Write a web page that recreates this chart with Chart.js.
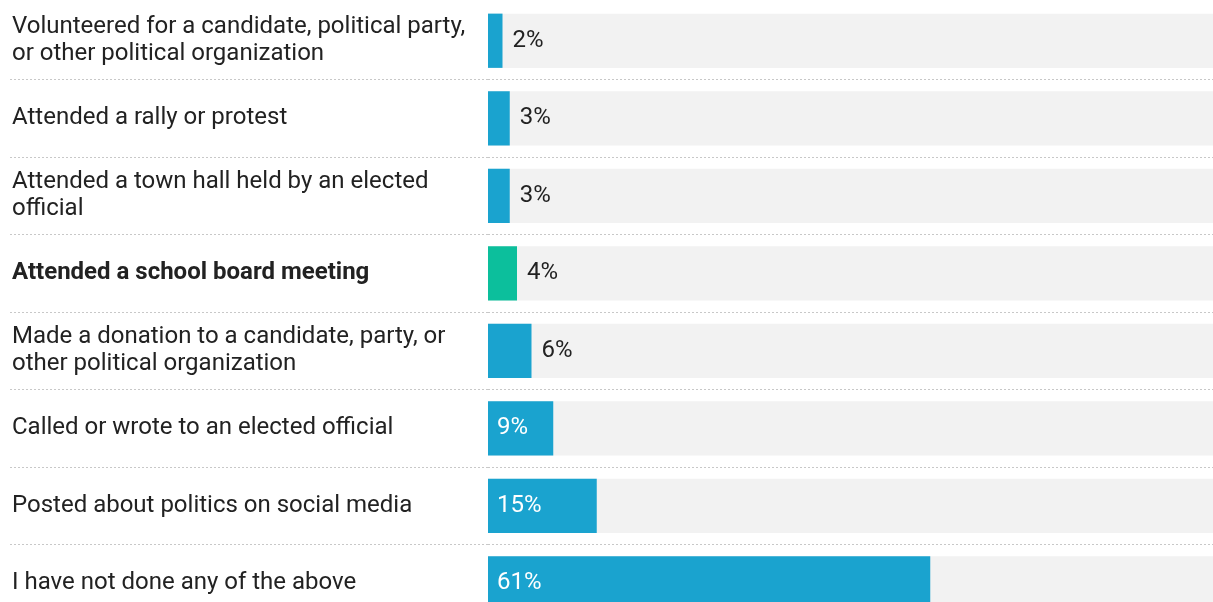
<!DOCTYPE html>
<html>
<head>
<meta charset="utf-8">
<script src="https://cdn.jsdelivr.net/npm/chart.js@4.4.1/dist/chart.umd.min.js"></script>
<style>
  html, body { margin: 0; padding: 0; background: #ffffff; overflow: hidden; }
  #wrap { position: relative; width: 1213px; height: 622px; }
</style>
</head>
<body>
<div id="wrap"><canvas id="c"></canvas></div>
<script>
const categories = [
  ["Volunteered for a candidate, political party,", "or other political organization"],
  "Attended a rally or protest",
  ["Attended a town hall held by an elected", "official"],
  "Attended a school board meeting",
  ["Made a donation to a candidate, party, or", "other political organization"],
  "Called or wrote to an elected official",
  "Posted about politics on social media",
  "I have not done any of the above"
];
const values = [2, 3, 3, 4, 6, 9, 15, 61];
const trackValues = [100, 100, 100, 100, 100, 100, 100, 100];
const highlightIndex = 3;
const valueLabels = ["2%", "3%", "3%", "4%", "6%", "9%", "15%", "61%"];

const BLUE = '#1aa3cf';
const GREEN = '#0cbf9c';
const TRACK = '#f2f2f2';
const FONT = 'Roboto, "Noto Sans", sans-serif';

const valueLabelPlugin = {
  id: 'valueLabels',
  afterDatasetsDraw(chart) {
    const ctx = chart.ctx;
    const meta = chart.getDatasetMeta(0);
    ctx.save();
    ctx.font = '400 24px ' + FONT;
    ctx.textBaseline = 'middle';
    ctx.textAlign = 'left';
    meta.data.forEach((bar, i) => {
      const txt = valueLabels[i];
      const tw = ctx.measureText(txt).width;
      const w = bar.x - bar.base;
      if (w > tw + 18) {
        ctx.fillStyle = '#ffffff';
        ctx.fillText(txt, bar.base + 9, bar.y);
      } else {
        ctx.fillStyle = '#222222';
        ctx.fillText(txt, bar.x + 10, bar.y);
      }
    });
    ctx.restore();
  }
};

new Chart(document.getElementById('c'), {
  type: 'bar',
  data: {
    labels: categories,
    datasets: [
      {
        data: values,
        backgroundColor: values.map((v, i) => i === highlightIndex ? GREEN : BLUE),
        borderWidth: 0,
        grouped: false,
        order: 0,
        barPercentage: 0.7,
        categoryPercentage: 1
      },
      {
        data: trackValues,
        backgroundColor: TRACK,
        borderWidth: 0,
        grouped: false,
        order: 1,
        barPercentage: 0.7,
        categoryPercentage: 1
      }
    ]
  },
  options: {
    indexAxis: 'y',
    responsive: true,
    maintainAspectRatio: false,
    animation: false,
    layout: { padding: { left: 12, right: 0, top: 2, bottom: 0 } },
    plugins: { legend: { display: false }, tooltip: { enabled: false } },
    scales: {
      x: { display: false, min: 0, max: 100 },
      y: {
        border: { display: false, dash: [2, 2] },
        grid: {
          offset: true,
          drawOnChartArea: true,
          drawTicks: true,
          tickLength: 478,
          color: (c) => c.index === 0 ? 'rgba(0,0,0,0)' : '#c8c8c8',
          tickColor: (c) => c.index === 0 ? 'rgba(0,0,0,0)' : '#c8c8c8',
          lineWidth: 1,
          tickBorderDash: [2, 2]
        },
        ticks: {
          crossAlign: 'far',
          color: '#222222',
          padding: 0,
          font: (c) => ({
            family: FONT,
            size: 24,
            weight: c.index === highlightIndex ? 'bold' : 'normal',
            lineHeight: 1.125
          })
        },
        afterFit(scale) {
          scale.width = 476;
          scale.paddingTop = 0;
          scale.paddingBottom = 0;
        }
      }
    }
  },
  plugins: [valueLabelPlugin]
});
</script>
</body>
</html>
